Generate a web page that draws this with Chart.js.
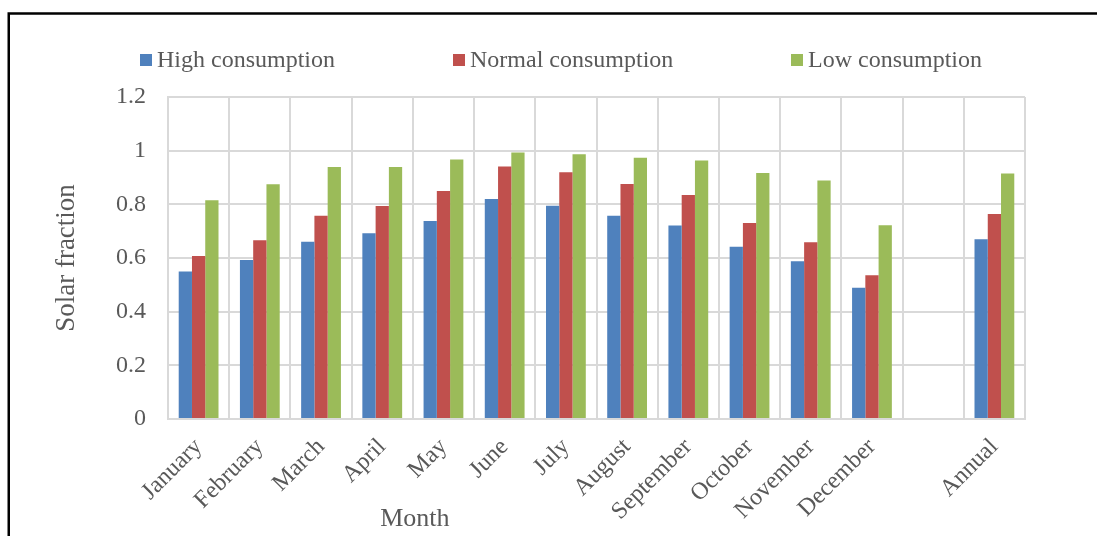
<!DOCTYPE html>
<html>
<head>
<meta charset="utf-8">
<script src="https://cdn.jsdelivr.net/npm/chart.js@4/dist/chart.umd.min.js"></script>
<style>
  html, body { margin: 0; padding: 0; background: #ffffff; }
  #wrap { width: 1097px; height: 536px; position: relative; }
</style>
</head>
<body>
<div id="wrap"><canvas id="c" width="1097" height="536"></canvas></div>
<script>
// Categories along the x axis (an empty slot separates the months from the annual value)
const months = ['January', 'February', 'March', 'April', 'May', 'June', 'July',
  'August', 'September', 'October', 'November', 'December', '', 'Annual'];

// Solar fraction for each consumption profile
const highConsumption   = [0.550, 0.593, 0.661, 0.692, 0.738, 0.820, 0.795, 0.757, 0.721, 0.642, 0.588, 0.489, null, 0.670];
const normalConsumption = [0.607, 0.666, 0.757, 0.794, 0.850, 0.941, 0.920, 0.876, 0.835, 0.730, 0.659, 0.536, null, 0.764];
const lowConsumption    = [0.815, 0.875, 0.939, 0.939, 0.967, 0.993, 0.987, 0.974, 0.963, 0.917, 0.889, 0.722, null, 0.915];

const seriesNames = ['High consumption', 'Normal consumption', 'Low consumption'];
const yTicks = [0, 0.2, 0.4, 0.6, 0.8, 1, 1.2];

const colors = ['#4F81BD', '#C0504D', '#9BBB59'];
const textColor = '#595959';
const gridColor = '#d9d9d9';
const serif = '"Liberation Serif", "Times New Roman", serif';

// Frame lines along the top and left edges of the figure
const framePlugin = {
  id: 'frame',
  beforeDraw(chart) {
    const ctx = chart.ctx;
    ctx.save();
    ctx.fillStyle = '#ffffff';
    ctx.fillRect(0, 0, chart.width, chart.height);
    ctx.strokeStyle = '#000000';
    ctx.lineWidth = 2.5;
    ctx.beginPath();
    ctx.moveTo(8.75, chart.height);
    ctx.lineTo(8.75, 13.6);
    ctx.lineTo(chart.width, 13.6);
    ctx.stroke();
    ctx.restore();
  }
};

// Legend row across the top and the x-axis caption
const legendXs = [140, 453, 791];
const annotationPlugin = {
  id: 'annot',
  afterDraw(chart) {
    const ctx = chart.ctx;
    ctx.save();
    ctx.font = '24px ' + serif;
    ctx.textBaseline = 'middle';
    ctx.textAlign = 'left';
    chart.data.datasets.forEach((ds, i) => {
      const x = legendXs[i];
      ctx.fillStyle = ds.backgroundColor;
      ctx.fillRect(x, 54, 12, 12);
      ctx.fillStyle = textColor;
      ctx.fillText(ds.label, x + 17, 61);
    });
    const area = chart.chartArea;
    ctx.font = '26px ' + serif;
    ctx.textAlign = 'center';
    ctx.fillText('Month', area.left + (area.right - area.left) * 0.288, 519);
    ctx.restore();
  }
};

const datasets = [highConsumption, normalConsumption, lowConsumption].map((vals, i) => ({
  label: seriesNames[i],
  data: vals,
  backgroundColor: colors[i],
  borderWidth: 0,
  categoryPercentage: 0.65,
  barPercentage: 1.0
}));

new Chart(document.getElementById('c'), {
  type: 'bar',
  data: { labels: months, datasets },
  options: {
    responsive: false,
    animation: false,
    devicePixelRatio: 1,
    layout: { padding: { top: 97, right: 72, bottom: 0, left: 0 } },
    plugins: {
      legend: { display: false },
      tooltip: { enabled: false }
    },
    scales: {
      x: {
        offset: true,
        grid: { offset: true, color: gridColor, lineWidth: 2, drawTicks: false },
        border: { color: gridColor, width: 2 },
        ticks: {
          color: textColor,
          font: { family: serif, size: 24 },
          minRotation: 45,
          maxRotation: 45,
          padding: 14,
          autoSkip: false
        },
        afterFit(scale) { scale.height = 117; }
      },
      y: {
        min: 0,
        max: 1.2,
        afterBuildTicks(scale) { scale.ticks = yTicks.map(v => ({ value: v })); },
        grid: { color: gridColor, lineWidth: 2, drawTicks: false },
        border: { color: gridColor, width: 2 },
        ticks: {
          color: textColor,
          font: { family: serif, size: 24 },
          padding: 22,
          callback: v => String(+v.toFixed(1))
        },
        title: {
          display: true,
          text: 'Solar fraction',
          color: textColor,
          font: { family: serif, size: 27 },
          padding: { top: 51, bottom: 0 }
        },
        afterFit(scale) { scale.width = 168; }
      }
    }
  },
  plugins: [framePlugin, annotationPlugin]
});
</script>
</body>
</html>
